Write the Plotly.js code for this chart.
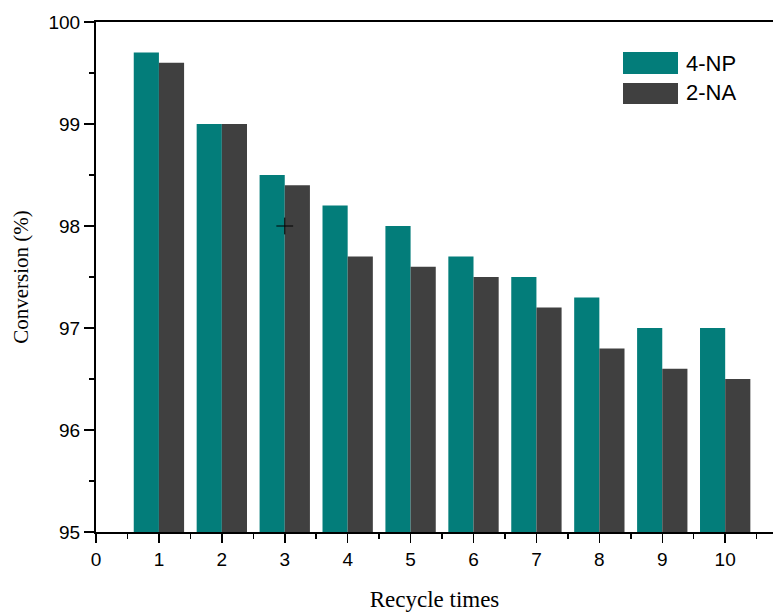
<!DOCTYPE html>
<html>
<head>
<meta charset="utf-8">
<script src="https://cdn.plot.ly/plotly-3.0.1.min.js"></script>
<style>html,body{margin:0;padding:0;background:#fff;}#chart{width:773px;height:612px;}</style>
</head>
<body>
<div id="chart"></div>
<script>
const recycleTimes = [1, 2, 3, 4, 5, 6, 7, 8, 9, 10];
const conv4NP = [99.7, 99.0, 98.5, 98.2, 98.0, 97.7, 97.5, 97.3, 97.0, 97.0];
const conv2NA = [99.6, 99.0, 98.4, 97.7, 97.6, 97.5, 97.2, 96.8, 96.6, 96.5];
const seriesNames = ["4-NP", "2-NA"];
const seriesColors = ["#037d7a", "#404040"];
const xTickVals = [0, 1, 2, 3, 4, 5, 6, 7, 8, 9, 10];
const yTickVals = [95, 96, 97, 98, 99, 100];
const markerPoint = {x: [3], y: [98]};

const traces = [
  {type: "bar", name: seriesNames[0], x: recycleTimes, y: conv4NP,
   marker: {color: seriesColors[0], line: {width: 0}}, showlegend: false, hoverinfo: "skip"},
  {type: "bar", name: seriesNames[1], x: recycleTimes, y: conv2NA,
   marker: {color: seriesColors[1], line: {width: 0}}, showlegend: false, hoverinfo: "skip"},
  {type: "scatter", mode: "markers", x: markerPoint.x, y: markerPoint.y, showlegend: false,
   marker: {symbol: "cross-thin-open", size: 12, color: "#000", line: {color: "#000", width: 1}}, hoverinfo: "skip"}
];

const px = (p) => (p - 96) / 677;
const py = (p) => (532 - p) / 510;

const layout = {
  width: 773, height: 612,
  margin: {l: 96, r: 0, t: 22, b: 80},
  paper_bgcolor: "#fff", plot_bgcolor: "#fff",
  barmode: "group", bargap: 0.2, bargroupgap: 0,
  showlegend: false,
  font: {family: "Liberation Sans, Arial, sans-serif", color: "#000"},
  xaxis: {
    range: [0, 10.76], tickvals: xTickVals, ticktext: xTickVals.map(String),
    showline: true, linecolor: "#000", linewidth: 2, mirror: true,
    ticks: "outside", ticklen: 9, tickwidth: 1.5, tickcolor: "#000",
    minor: {ticks: "outside", ticklen: 5, tickwidth: 1.5, tickcolor: "#000", dtick: 0.5, tick0: 0, showgrid: false},
    showgrid: false, zeroline: false,
    tickfont: {size: 19, family: "Liberation Sans, Arial, sans-serif", color: "#000"},
    title: {text: "Recycle times", standoff: 28, font: {family: "Liberation Serif, Times New Roman, serif", size: 23, color: "#000"}}
  },
  yaxis: {
    range: [95, 100], tickvals: yTickVals, ticktext: yTickVals.map(String),
    showline: true, linecolor: "#000", linewidth: 2,
    ticks: "outside", ticklen: 10, tickwidth: 1.5, tickcolor: "#000",
    minor: {ticks: "outside", ticklen: 5, tickwidth: 1.5, tickcolor: "#000", dtick: 0.5, tick0: 95, showgrid: false},
    showgrid: false, zeroline: false,
    tickfont: {size: 19, family: "Liberation Sans, Arial, sans-serif", color: "#000"},
    title: {text: "Conversion (%)", standoff: 14, font: {family: "Liberation Serif, Times New Roman, serif", size: 21, color: "#000"}}
  },
  shapes: [
    {type: "rect", xref: "paper", yref: "paper", x0: px(623), x1: px(678), y0: py(74), y1: py(52),
     fillcolor: seriesColors[0], line: {width: 0}},
    {type: "rect", xref: "paper", yref: "paper", x0: px(623), x1: px(678), y0: py(104), y1: py(83),
     fillcolor: seriesColors[1], line: {width: 0}}
  ],
  annotations: [
    {xref: "paper", yref: "paper", x: px(684), y: py(63), xanchor: "left", yanchor: "middle",
     text: seriesNames[0], showarrow: false, font: {size: 22, family: "Liberation Sans, Arial, sans-serif", color: "#000"}},
    {xref: "paper", yref: "paper", x: px(684), y: py(93), xanchor: "left", yanchor: "middle",
     text: seriesNames[1], showarrow: false, font: {size: 22, family: "Liberation Sans, Arial, sans-serif", color: "#000"}}
  ]
};

Plotly.newPlot("chart", traces, layout, {displayModeBar: false, staticPlot: true});
</script>
</body>
</html>
